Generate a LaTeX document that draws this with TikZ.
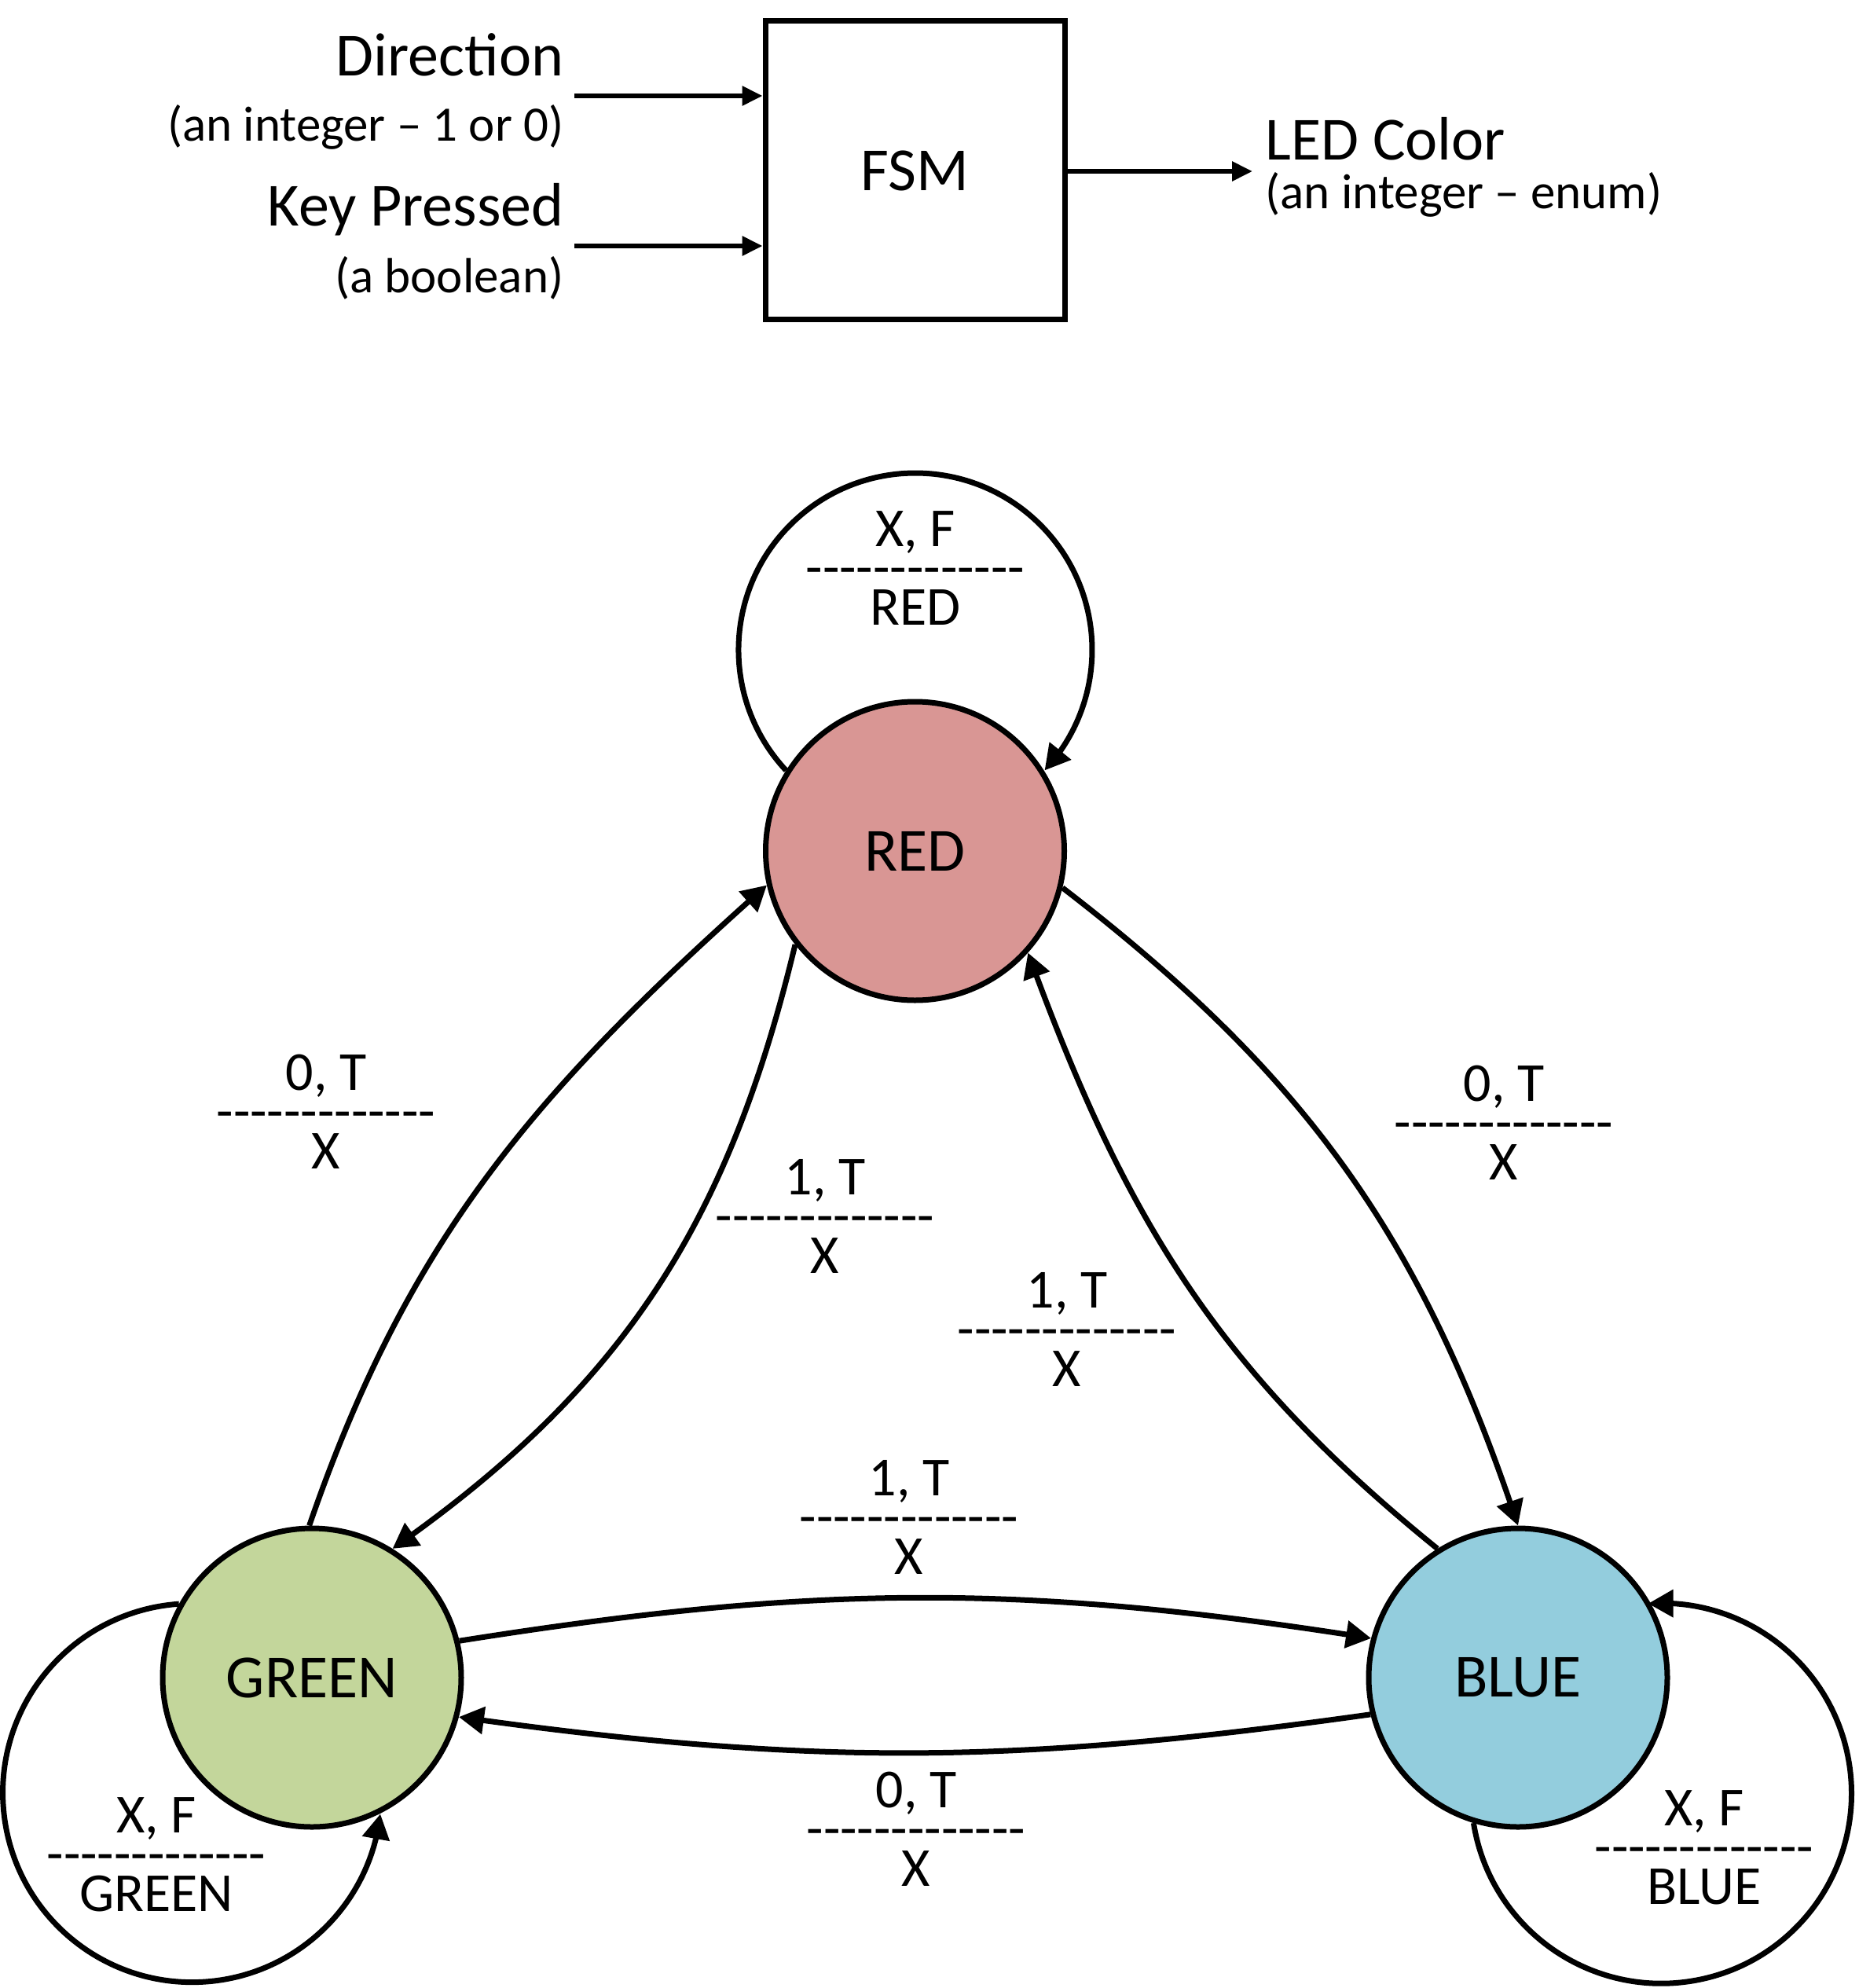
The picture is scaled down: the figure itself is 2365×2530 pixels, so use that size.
\documentclass[tikz,border=0pt]{standalone}
\usepackage{fontspec}
\setmainfont{Carlito}[Ligatures=TeXOff]
\usetikzlibrary{arrows.meta,bending}
\definecolor{redfill}{HTML}{D99694}
\definecolor{greenfill}{HTML}{C3D69B}
\definecolor{bluefill}{HTML}{93CDDD}
\begin{document}
\begin{tikzpicture}[x=0.3pt,y=0.3pt,
  state/.style={circle, draw, line width=2.1pt, minimum size=114pt, inner sep=0pt, font=\fontsize{23.4}{28}\selectfont},
  trans/.style={line width=2.1pt, -{Triangle[length=9.6pt,width=10.2pt]}},
  inarr/.style={line width=1.8pt, -{Triangle[length=7.8pt,width=7.2pt]}},
  lbl/.style={align=center, inner sep=0pt, font=\fontsize{21}{15}\selectfont},
  big/.style={inner sep=0pt, font=\fontsize{23.4}{28}\selectfont},
  small/.style={inner sep=0pt, font=\fontsize{18.9}{22.8}\selectfont}
]
\useasboundingbox (0,0) rectangle (2365,-2530);

% block diagram
\node[draw, line width=2.1pt, minimum width=114.3pt, minimum height=114pt, inner sep=0pt, big] (fsm) at (1164.5,-217) {FSM};
\node[big, anchor=base east] (dir) at (718,-97) {Direction};
\node[small, anchor=base east] (dirsub) at (718,-180) {(an integer – 1 or 0)};
\node[big, anchor=base east] (key) at (718,-288) {Key Pressed};
\node[small, anchor=base east] (keysub) at (718,-372) {(a boolean)};
\node[big, anchor=base west] (led) at (1610,-204) {LED Color};
\node[small, anchor=base west] (ledsub) at (1610,-266) {(an integer – enum)};

\coordinate (dirin) at (731,-122);
\coordinate (keyin) at (731,-313);
\coordinate (ledout) at (1594,-218);
\draw[inarr] (dirin) -- (dirin -| fsm.west);
\draw[inarr] (keyin) -- (keyin -| fsm.west);
\draw[inarr] (fsm.east |- ledout) -- (ledout);

% states
\node[state, fill=redfill] (red) at (1164.5,-1083) {RED};
\node[state, fill=greenfill] (green) at (397,-2135) {GREEN};
\node[state, fill=bluefill] (blue) at (1932,-2135) {BLUE};

% self loops
\draw[trans] (red.148) arc[start angle=223, end angle=-43, radius=225];
\draw[trans] (green.151) arc[start angle=94, end angle=353.6, radius=241];
\draw[trans] (blue.253.6) arc[start angle=189, end angle=454, radius=242];

% transitions
\draw[trans] (green.91.5) to[out=71, in=221.7] (red.193.4);
\draw[trans] (red.218) to[out=256.5, in=35] (green.58.6);
\draw[trans] (red.346.4) to[out=-37.6, in=108.4] (blue.90);
\draw[trans] (blue.122.3) to[out=141, in=290] (red.318.3);
\draw[trans] (green.14.3) to[out=9, in=171] (blue.165.7);
\draw[trans] (blue.194.8) to[out=188, in=352] (green.345.7);

% labels
\node[lbl] (lredloop) at (1165,-723) {X, F\\-------------\\RED};
\node[lbl] (lgreenloop) at (199,-2360) {X, F\\-------------\\GREEN};
\node[lbl] (lblueloop) at (2169,-2351) {X, F\\-------------\\BLUE};
\node[lbl] (lgr) at (415,-1415) {0, T\\-------------\\X};
\node[lbl] (lrg) at (1050,-1548) {1, T\\-------------\\X};
\node[lbl] (lrb) at (1914,-1429) {0, T\\-------------\\X};
\node[lbl] (lbr) at (1358,-1692) {1, T\\-------------\\X};
\node[lbl] (lgb) at (1157,-1931) {1, T\\-------------\\X};
\node[lbl] (lbg) at (1166,-2328) {0, T\\-------------\\X};
\end{tikzpicture}
\end{document}
